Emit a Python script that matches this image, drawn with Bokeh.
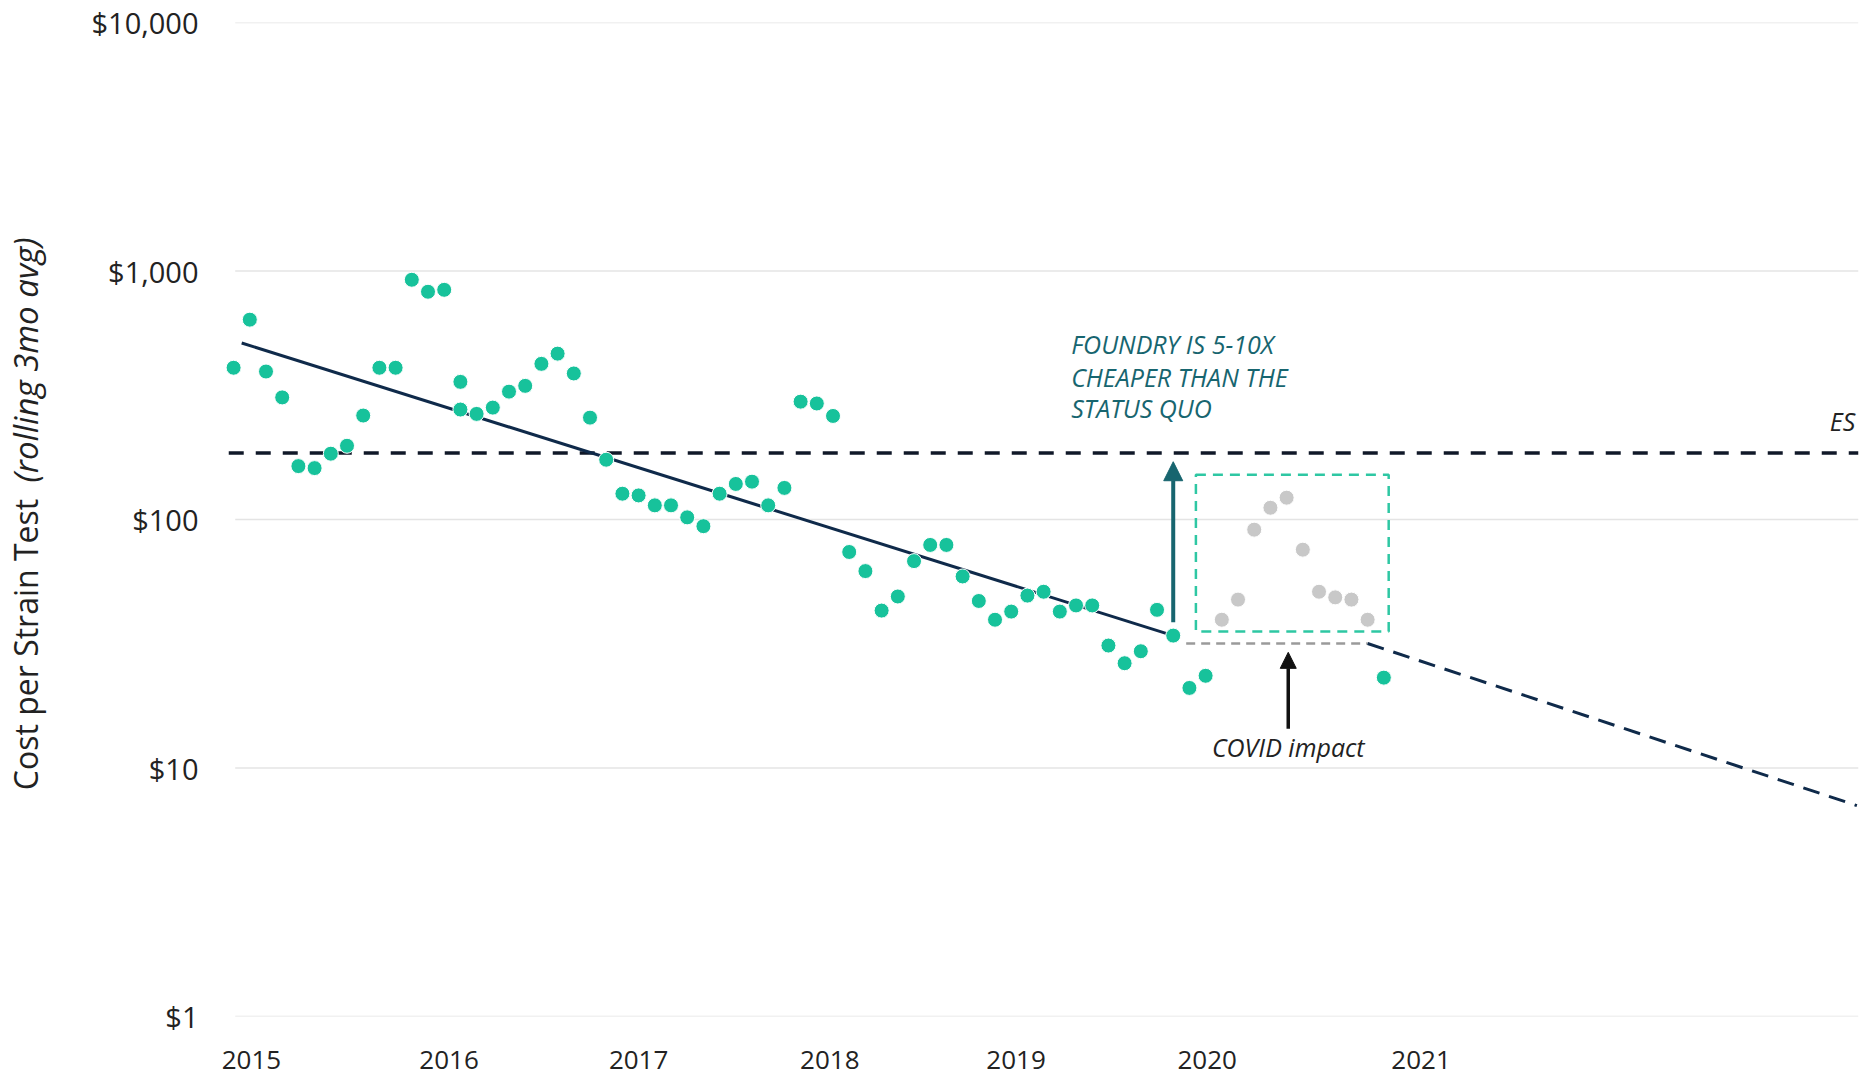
from math import pi
from bokeh.plotting import figure
from bokeh.layouts import row
from bokeh.models import Range1d, FixedTicker, NumeralTickFormatter, Label, Arrow, NormalHead
from bokeh.core.properties import value
from bokeh.embed import file_html
from bokeh.resources import INLINE

# ---------------- data ----------------
# month index: 0 = Jan 2015
green_month = [0, 1, 2, 3, 4, 5, 6, 7, 8, 9, 10, 11, 12, 13, 14, 14, 15, 16, 17, 18,
               19, 20, 21, 22, 23, 24, 25, 26, 27, 28, 29, 30, 31, 32, 33, 34, 35, 36, 37, 38,
               39, 40, 41, 42, 43, 44, 45, 46, 47, 48, 49, 50, 51, 52, 53, 54, 55, 56, 57, 58,
               59, 60, 71]
green_cost = [408, 637, 394, 310, 164, 161, 184, 198, 262, 408, 408, 922, 825, 840, 358, 277, 266, 282, 327, 345,
              423, 465, 387, 257, 174, 127, 125, 114, 114, 102, 94, 127, 139, 142, 114, 134, 298, 293, 261, 74,
              62, 43, 49, 68, 79, 79, 59, 47, 39.5, 42.6, 49.4, 51.2, 42.6, 45.1, 45.1, 31.1, 26.4, 29.5, 43.3, 34.1,
              21.0, 23.5, 23.1]

covid_month = [61, 62, 63, 64, 65, 66, 67, 68, 69, 70]
covid_cost = [39.5, 47.6, 91, 111.5, 122.4, 75.6, 51.2, 48.6, 47.6, 39.5]

trend_month = [0.5, 58]
trend_cost = [513, 34.1]
plateau_month = [58.8, 70]
plateau_cost = [31.7, 31.7]
proj_month = [70, 100.2]
proj_cost = [31.7, 7.06]

es_cost = 185
covid_box = dict(left=59.4, right=71.3, bottom=35.4, top=151.4)

year_ticks = [1.1, 13.3, 25.0, 36.8, 48.3, 60.1, 73.3]
year_labels = ["2015", "2016", "2017", "2018", "2019", "2020", "2021"]
cost_ticks = [1, 10, 100, 1000, 10000]

y_title_main = "Cost per Strain Test"
y_title_note = "(rolling 3mo avg)"
note_lines = ["FOUNDRY IS 5-10X", "CHEAPER THAN THE", "STATUS QUO"]
note_y = [510, 376, 280]

# ---------------- styles ----------------
GREEN = "#17c29b"
GRAY = "#c8c8c8"
NAVY = "#0f2a4a"
TEAL_DARK = "#17656f"
TEAL = "#2ec7a3"
TXT = "#222222"
FONT = "Open Sans"

W, H = 1870, 1076
TITLE_W = 60
X0, X1 = -0.5, 100.3

# ---------------- y-axis title panel ----------------
t = figure(width=TITLE_W, height=H, x_range=Range1d(0, TITLE_W), y_range=Range1d(0, H),
           output_backend="svg", toolbar_location=None,
           x_axis_location=None, y_axis_location=None,
           min_border_left=0, min_border_right=0, min_border_top=0, min_border_bottom=0)
t.outline_line_color = None
t.grid.visible = False
t.text(x=[25], y=[H - 831], text=[y_title_main], angle=pi / 2,
       text_font=value(FONT), text_font_size="32px", text_color=TXT,
       text_align="left", text_baseline="middle")
t.text(x=[25], y=[H - 498], text=[y_title_note], angle=pi / 2,
       text_font=value(FONT), text_font_style="italic", text_font_size="33px", text_color=TXT,
       text_align="left", text_baseline="middle")

# ---------------- main chart ----------------
p = figure(width=W - TITLE_W, height=H,
           x_range=Range1d(X0, X1), y_range=Range1d(1, 10000),
           y_axis_type="log", output_backend="svg", toolbar_location=None,
           min_border_left=225 - TITLE_W, min_border_right=12, min_border_top=22, min_border_bottom=60)
p.outline_line_color = None
p.background_fill_color = "white"

p.yaxis.ticker = FixedTicker(ticks=cost_ticks)
p.yaxis.formatter = NumeralTickFormatter(format="$0,0")
p.yaxis.axis_line_color = None
p.yaxis.major_tick_line_color = None
p.yaxis.minor_tick_line_color = None
p.yaxis.major_label_text_font = FONT
p.yaxis.major_label_text_font_size = "29px"
p.yaxis.major_label_text_color = TXT
p.yaxis.major_label_standoff = 21

p.xaxis.ticker = FixedTicker(ticks=year_ticks)
p.xaxis.major_label_overrides = {tk: lb for tk, lb in zip(year_ticks, year_labels)}
p.xaxis.axis_line_color = None
p.xaxis.major_tick_line_color = None
p.xaxis.minor_tick_line_color = None
p.xaxis.major_label_text_font = FONT
p.xaxis.major_label_text_font_size = "26px"
p.xaxis.major_label_text_color = TXT
p.xaxis.major_label_standoff = 28

# horizontal grid lines at the decade ticks
p.xgrid.visible = False
p.ygrid.visible = False
n = len(cost_ticks)
p.segment(x0=[0.1] * n, x1=[X1] * n, y0=cost_ticks, y1=cost_ticks,
          line_color="#e4e4e4", line_width=1.5)

# ES reference line
p.line([-0.3, X1], [es_cost, es_cost], line_color="#101828", line_width=3.5, line_dash="15 12")

# trend lines
p.line(trend_month, trend_cost, line_color=NAVY, line_width=3)
p.line(plateau_month, plateau_cost, line_color="#9a9a9a", line_width=2.5, line_dash="9 6")
p.line(proj_month, proj_cost, line_color=NAVY, line_width=3, line_dash="17 10")

# covid box
p.quad(left=[covid_box["left"]], right=[covid_box["right"]], bottom=[covid_box["bottom"]],
       top=[covid_box["top"]], fill_color=None, line_color=TEAL, line_width=2.5, line_dash="10 7")

# points
p.scatter(covid_month, covid_cost, size=15, fill_color=GRAY, line_color="white", line_width=1)
p.scatter(green_month, green_cost, size=15, fill_color=GREEN, line_color="white", line_width=1)

# arrows
p.add_layout(Arrow(end=NormalHead(size=19, fill_color=TEAL_DARK, line_color=TEAL_DARK),
                   x_start=58, y_start=38.6, x_end=58, y_end=170.8,
                   line_color=TEAL_DARK, line_width=4))
p.add_layout(Arrow(end=NormalHead(size=16, fill_color="#111111", line_color="#111111"),
                   x_start=65.1, y_start=14.4, x_end=65.1, y_end=29.2,
                   line_color="#111111", line_width=3.5))

# annotation texts
for txt, yv in zip(note_lines, note_y):
    p.add_layout(Label(x=51.7, y=yv, text=txt, text_font=FONT, text_font_style="italic",
                       text_font_size="25px", text_color=TEAL_DARK, text_align="left",
                       text_baseline="alphabetic"))
p.add_layout(Label(x=65.1, y=12.1, text="COVID impact", text_font=FONT, text_font_style="italic",
                   text_font_size="25px", text_color=TXT, text_align="center", text_baseline="alphabetic"))
p.add_layout(Label(x=100.1, y=250, text="ES", text_font=FONT, text_font_style="italic",
                   text_font_size="25px", text_color=TXT, text_align="right", text_baseline="alphabetic"))

layout = row(t, p, spacing=0)
open("out.html", "w").write(file_html(layout, INLINE))
